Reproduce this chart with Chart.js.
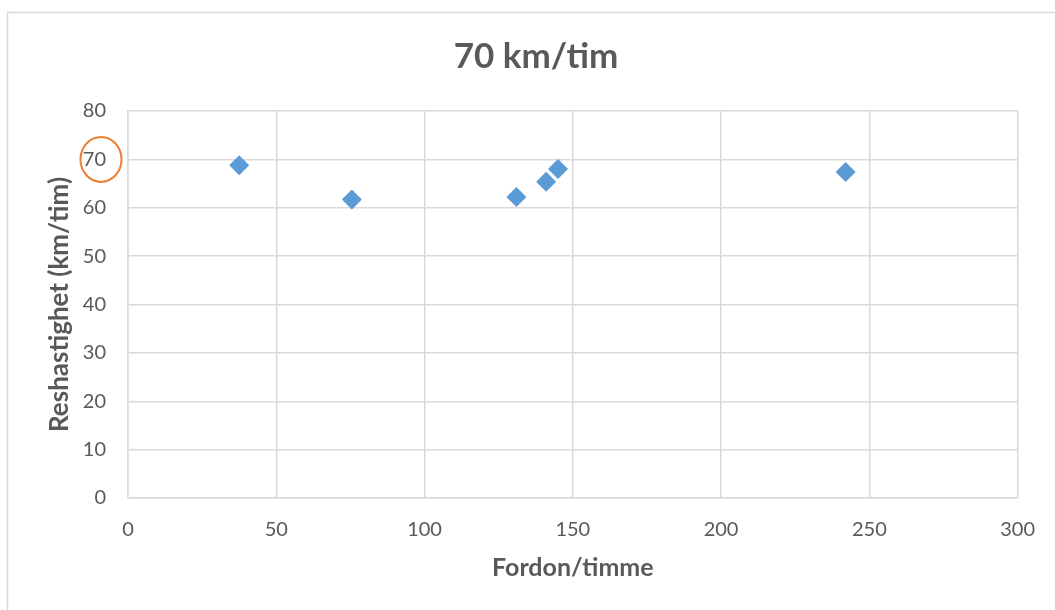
<!DOCTYPE html>
<html lang="sv">
  <head>
    <meta charset="UTF-8" />
    <title>70 km/tim</title>
    <script src="https://cdn.jsdelivr.net/npm/chart.js"></script>
    <style>
      html, body { margin: 0; padding: 0; background: #fff; }
      #wrap { width: 1055px; height: 610px; position: relative; }
    </style>
  </head>
  <body>
    <div id="wrap">
      <canvas id="myChart"></canvas>
    </div>

    <script>
      // Fordon/timme vs reshastighet
      const flow = [37.5, 75.5, 131, 141, 145, 242];
      const speed = [68.8, 61.7, 62.2, 65.4, 68.0, 67.4];
      const titleText = "70 km/tim";
      const xTitle = "Fordon/timme";
      const yTitle = "Reshastighet (km/tim)";

      const points = flow.map((x, i) => ({ x: x, y: speed[i] }));
      const grey = "#595959";
      const gridColor = "#d9d9d9";

      // outer frame of the chart object
      const frame = {
        id: "frame",
        beforeDraw(chart) {
          const ctx = chart.ctx;
          ctx.save();
          ctx.strokeStyle = gridColor;
          ctx.lineWidth = 1.5;
          ctx.strokeRect(7.5, 12.5, 1200, 800);
          ctx.restore();
        },
      };

      // chart title, centred on the whole chart object like Excel does
      const heading = {
        id: "heading",
        afterDraw(chart) {
          const ctx = chart.ctx;
          ctx.save();
          ctx.fillStyle = grey;
          ctx.font = "bold 35px Lato";
          ctx.textAlign = "center";
          ctx.textBaseline = "middle";
          ctx.fillText(titleText, 536, 57);
          ctx.restore();
        },
      };

      // orange circle around the 70 label
      const circleMark = {
        id: "circleMark",
        afterDraw(chart) {
          const ctx = chart.ctx;
          const y = chart.scales.y.getPixelForValue(70);
          const cx = chart.chartArea.left - 27;
          ctx.save();
          ctx.strokeStyle = "#ed7d31";
          ctx.lineWidth = 2;
          ctx.beginPath();
          ctx.ellipse(cx, y, 20.5, 22.5, 0, 0, Math.PI * 2);
          ctx.stroke();
          ctx.restore();
        },
      };

      let config = {
        type: "scatter",
        data: {
          datasets: [
            {
              label: "Reshastighet",
              data: points,
              pointStyle: "rectRot",
              pointRadius: 10,
              pointHoverRadius: 10,
              backgroundColor: "#5b9bd5",
              borderColor: "#5b9bd5",
              borderWidth: 0,
            },
          ],
        },
        options: {
          responsive: true,
          maintainAspectRatio: false,
          animation: false,
          layout: { padding: { left: 8, top: 111, right: 37, bottom: 0 } },
          plugins: {
            legend: { display: false },
            tooltip: { enabled: false },
            title: { display: false },
          },
          scales: {
            x: {
              type: "linear",
              min: 0,
              max: 300,
              ticks: {
                stepSize: 50,
                color: grey,
                padding: 20,
                font: { family: "Lato", size: 20 },
              },
              grid: { color: gridColor, lineWidth: 1.5, drawTicks: false },
              border: { color: gridColor, width: 1.5 },
              title: {
                display: true,
                text: xTitle,
                color: grey,
                font: { family: "Lato", size: 25, weight: "bold", lineHeight: 1.2 },
                padding: { top: 0, bottom: 27 },
              },
              afterFit(scale) {
                scale.height = 112;
              },
            },
            y: {
              min: 0,
              max: 80,
              ticks: {
                stepSize: 10,
                color: grey,
                padding: 22,
                font: { family: "Lato", size: 20 },
              },
              grid: { color: gridColor, lineWidth: 1.5, drawTicks: false },
              border: { color: gridColor, width: 1.5 },
              title: {
                display: true,
                text: yTitle,
                color: grey,
                font: { family: "Lato", size: 26, weight: "bold", lineHeight: 1.2 },
                padding: { top: 36.4, bottom: 0 },
              },
              afterFit(scale) {
                scale.width = 120;
              },
            },
          },
        },
        plugins: [frame, heading, circleMark],
      };

      new Chart(document.getElementById("myChart"), config);
    </script>
  </body>
</html>
